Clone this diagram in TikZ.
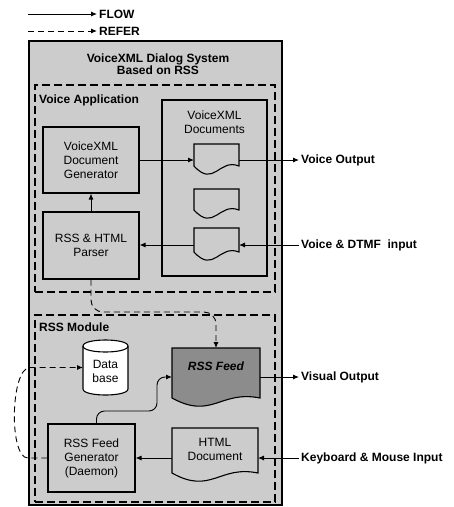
\documentclass[tikz,border=0pt]{standalone}
\usepackage{fontspec}
\setmainfont{Liberation Sans}
\usetikzlibrary{arrows.meta}
\definecolor{halft}{gray}{0.80}
\definecolor{feedgray}{gray}{0.55}
\newcommand{\wavedoc}[3]{\draw[docline,fill=#3] (#1.north west) -- (#1.north east) -- (#1.south east) .. controls +(-#2,-8) and +(#2,22) .. (#1.south west) -- cycle;}
\begin{document}
\begin{tikzpicture}[x=1pt,y=-1pt,
  flow/.style={-{Latex[length=6pt,width=5pt]}, line width=0.9pt},
  refer/.style={flow, dash pattern=on 6pt off 4pt},
  txt/.style={font=\fontsize{12}{14}\selectfont, align=center, inner sep=1pt},
  lbl/.style={font=\bfseries\fontsize{12}{14}\selectfont, anchor=west, inner sep=2pt},
  box/.style={draw, line width=1.1pt, fill=halft, align=center, inner sep=1pt, font=\fontsize{12}{14}\selectfont},
  docnode/.style={draw=none, inner sep=0pt, outer sep=0pt},
  docline/.style={draw, line width=1.1pt},
  dashbox/.style={draw, line width=1.2pt, dash pattern=on 8pt off 4pt, inner sep=0pt}
]
\useasboundingbox (0,0) rectangle (454,507);

% legend
\coordinate (lf) at (28,14);
\coordinate (lr) at (28,31);
\node[lbl] (flowlbl) at (97,14) {FLOW};
\node[lbl] (referlbl) at (97,31) {REFER};
\draw[flow] (lf) -- (flowlbl.west);
\draw[refer] (lr) -- (referlbl.west);

% outer system box
\node[box, line width=1.3pt, minimum width=253pt, minimum height=464pt] (sys) at (155.5,273) {};
\node[txt, font=\bfseries\fontsize{12}{12.5}\selectfont] (title) at (158,64) {VoiceXML Dialog System\\Based on RSS};

% dashed modules
\node[dashbox, minimum width=240pt, minimum height=207pt] (vapp) at (155,188.5) {};
\node[lbl] (vapplbl) at (37,100) {Voice Application};
\node[dashbox, minimum width=240pt, minimum height=187pt] (rssm) at (155,408.5) {};
\node[lbl] (rssmlbl) at (37,327) {RSS Module};

% voice application content
\node[box, minimum width=96pt, minimum height=66pt] (gen) at (91,160) {VoiceXML\\Document\\Generator};
\node[box, minimum width=96pt, minimum height=67pt] (parser) at (91,245.5) {RSS \& HTML\\Parser};
\node[box, minimum width=105pt, minimum height=176pt] (vdocs) at (214.5,188) {};
\node[txt] (vdtitle) at (214.5,122) {VoiceXML\\Documents};

\node[docnode, minimum width=45pt, minimum height=22pt] (d1) at (216.5,155) {};
\node[docnode, minimum width=45pt, minimum height=21pt] (d2) at (216.5,199.5) {};
\node[docnode, minimum width=45pt, minimum height=24pt] (d3) at (216.5,240) {};
\wavedoc{d1}{20}{halft}
\wavedoc{d2}{20}{halft}
\wavedoc{d3}{20}{halft}

% rss module content
\node[docnode, minimum width=45pt, minimum height=55pt] (db) at (105.5,367.5) {};
\draw[docline, fill=white] (83,346) -- (83,389) .. controls (83,397) and (128,397) .. (128,389) -- (128,346) .. controls (128,338) and (83,338) .. (83,346) -- cycle;
\draw[docline] (83,346) .. controls (83,354) and (128,354) .. (128,346);
\node[txt] (dbtxt) at (105.5,371) {Data\\base};

\node[docnode, minimum width=88pt, minimum height=50pt] (feed) at (216,373) {};
\wavedoc{feed}{40}{feedgray}
\node[txt, font=\bfseries\itshape\fontsize{12}{14}\selectfont] (feedtxt) at (216,366) {RSS Feed};

\node[box, minimum width=87pt, minimum height=68pt] (rgen) at (91.5,458) {RSS Feed\\Generator\\(Daemon)};
\node[docnode, minimum width=86pt, minimum height=45pt] (html) at (215,450.5) {};
\wavedoc{html}{39}{halft}
\node[txt] (htmltxt) at (215,449) {HTML\\Document};

% outside labels
\node[lbl] (vout) at (299,160) {Voice Output};
\node[lbl] (vin) at (299,245) {Voice \& DTMF\ \ input};
\node[lbl] (vis) at (299,377) {Visual Output};
\node[lbl] (kb) at (299,458) {Keyboard \& Mouse Input};

% connectors
\draw[flow] (gen.east) -- (gen.east -| d1.west);
\draw[flow] (gen.east -| d1.east) -- (vout.west);
\draw[flow] (vin.west) -- (vin.west -| d3.east);
\draw[flow] (vin.west -| d3.west) -- (vin.west -| parser.east);
\draw[flow] (parser.north) -- (gen.south);

\coordinate (ybend) at (216,312);
\draw[refer, rounded corners=12pt] (parser.south) |- (ybend) -- (feed.north);

\coordinate (gbend) at (157,411);
\draw[flow, rounded corners=8pt] ([xshift=5pt]rgen.north) |- (gbend) |- (vis.west -| feed.west);
\draw[flow] (vis.west -| feed.east) -- (vis.west);

\draw[flow] (kb.west) -- (kb.west -| html.east);
\draw[flow] (kb.west -| html.west) -- (rgen.east);

\coordinate (c1) at (28,458);
\coordinate (c2) at (30,367.5);
\draw[refer] (rgen.west) -- (c1) to[out=180,in=180,looseness=0.55] (c2) -- (db.west);
\end{tikzpicture}
\end{document}
